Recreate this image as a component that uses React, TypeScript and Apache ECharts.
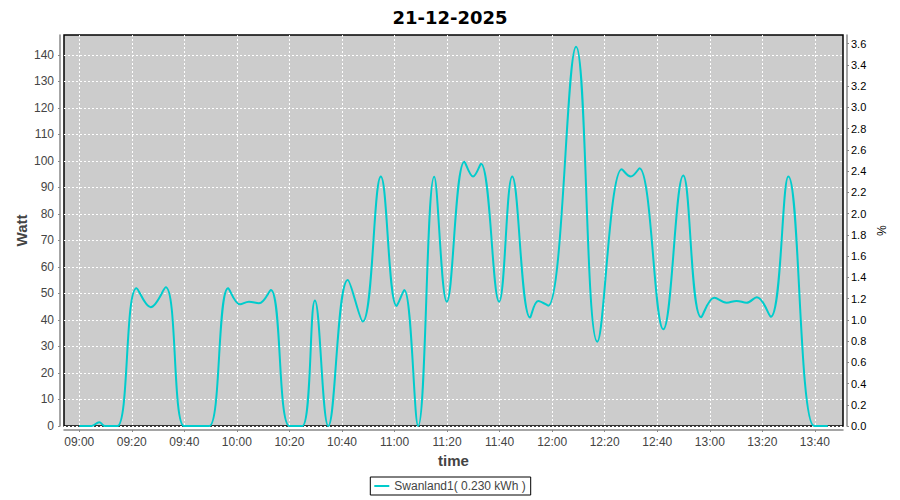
import React, { useEffect, useRef } from "react";
import * as echarts from "echarts";

const chartTitle = "21-12-2025";
const seriesName = "Swanland1( 0.230 kWh )";
const startClock = "09:00";

// minutes after 09:00
const minutes = [
  0, 4.7, 7.6, 9.8, 14.5, 21.8, 27.2, 32.9, 39.9, 44.7, 49.5, 56.7, 61.2, 64.6,
  68.4, 72.9, 80, 84.9, 89.7, 94.8, 102.2, 107.9, 114.8, 120.8, 123.7, 129,
  135.1, 139.9, 146.6, 149.9, 152.9, 159.8, 164.8, 171.6, 174.7, 178.5, 189.1,
  197.2, 206.5, 209.9, 213.2, 222.3, 229.9, 236.7, 241.7, 246.4, 250.2, 254,
  257.9, 263.2, 269.9, 279.7, 284.9,
];
const watts = [
  0, 0, 1.4, 0, 0, 52, 44.8, 52.3, 0, 0, 0, 52, 45.9, 46.9, 46.3, 51.3, 0, 0,
  47.3, 0, 55.1, 39.4, 94.1, 45.3, 51.3, 0, 94, 46.9, 99.7, 94.1, 98.9, 46.9,
  94.1, 40.9, 47.2, 45.4, 143.1, 31.8, 96.9, 94.1, 97.2, 36.5, 94.5, 41, 48.4,
  46.5, 47.2, 46.5, 48.6, 41.2, 94.1, 0, 0,
];

const xTickLabels = [
  "09:00", "09:20", "09:40", "10:00", "10:20", "10:40", "11:00", "11:20",
  "11:40", "12:00", "12:20", "12:40", "13:00", "13:20", "13:40",
];
const leftTicks = [0, 10, 20, 30, 40, 50, 60, 70, 80, 90, 100, 110, 120, 130, 140];
const rightTicks = [
  0.0, 0.2, 0.4, 0.6, 0.8, 1.0, 1.2, 1.4, 1.6, 1.8, 2.0, 2.2, 2.4, 2.6, 2.8,
  3.0, 3.2, 3.4, 3.6,
];

const toMin = (s: string) => {
  const [h, m] = s.split(":").map(Number);
  return h * 60 + m;
};
const base = toMin(startClock);
const xTickValues = xTickLabels.map((s) => toMin(s) - base);
const fmtClock = (v: number) => {
  const t = Math.round(v + base);
  const h = Math.floor(t / 60);
  const m = t % 60;
  return `${String(h).padStart(2, "0")}:${String(m).padStart(2, "0")}`;
};

const FONT = "'Liberation Sans', Arial, sans-serif";

export default function App() {
  const ref = useRef<HTMLDivElement>(null);
  useEffect(() => {
    if (!ref.current) return;
    const chart = echarts.init(ref.current, undefined, { renderer: "svg" });
    chart.setOption({
      animation: false,
      backgroundColor: "#ffffff",
      title: {
        text: chartTitle,
        left: "center",
        top: 3,
        textStyle: {
          fontFamily: "'DejaVu Sans', sans-serif",
          fontSize: 18,
          fontWeight: "bold",
          color: "#000",
        },
      },
      legend: {
        data: [{ name: seriesName, icon: "rect" }],
        left: "center",
        top: 477,
        itemWidth: 15,
        itemHeight: 2,
        itemGap: 5,
        padding: [3, 5, 3, 4],
        borderColor: "#000",
        borderWidth: 1,
        textStyle: { fontFamily: FONT, fontSize: 12, color: "#444" },
      },
      grid: {
        left: 64,
        right: 57,
        top: 35,
        bottom: 74,
        show: true,
        backgroundColor: "#cccccc",
        borderColor: "#000",
        borderWidth: 1.5,
        containLabel: false,
      },
      xAxis: {
        type: "value",
        min: -5.8,
        max: 290.7,
        offset: 4,
        name: "time",
        nameLocation: "middle",
        nameGap: 20,
        nameTextStyle: { fontFamily: FONT, fontSize: 15, fontWeight: "bold", color: "#444" },
        axisLine: { show: true, onZero: false, lineStyle: { color: "#888", width: 1.5 } },
        axisTick: { show: true, length: 2, customValues: xTickValues, lineStyle: { color: "#888" } },
        axisLabel: {
          customValues: xTickValues,
          formatter: (v: number) => fmtClock(v),
          fontFamily: FONT,
          fontSize: 12,
          color: "#444",
          margin: 6,
        },
        splitLine: { show: true, lineStyle: { color: "#fff", type: [2, 2], width: 1 } },
      },
      yAxis: [
        {
          type: "value",
          min: 0,
          max: 147.5,
          interval: 10,
          position: "left",
          offset: 4,
          name: "Watt",
          nameLocation: "middle",
          nameGap: 31,
          nameMoveOverlap: false,
          nameTextStyle: { fontFamily: FONT, fontSize: 15, fontWeight: "bold", color: "#444" },
          axisLine: { show: true, onZero: false, lineStyle: { color: "#888", width: 1.5 } },
          axisTick: { show: true, length: 2, customValues: leftTicks, lineStyle: { color: "#888" } },
          axisLabel: {
            customValues: leftTicks,
            fontFamily: FONT,
            fontSize: 12,
            color: "#444",
            margin: 6,
          },
          splitLine: { show: true, lineStyle: { color: "#fff", type: [2, 2], width: 1 } },
        },
        {
          type: "value",
          min: 0,
          max: 3.68,
          interval: 0.2,
          position: "right",
          offset: 4,
          name: "%",
          nameLocation: "middle",
          nameGap: 28,
          nameMoveOverlap: false,
          nameRotate: -90,
          nameTextStyle: { fontFamily: FONT, fontSize: 12, color: "#000" },
          axisLine: { show: true, onZero: false, lineStyle: { color: "#888", width: 1.5 } },
          axisTick: { show: true, length: 2, customValues: rightTicks, lineStyle: { color: "#888" } },
          axisLabel: {
            customValues: rightTicks,
            formatter: (v: number) => v.toFixed(1),
            fontFamily: FONT,
            fontSize: 11,
            color: "#000",
            margin: 4,
          },
          splitLine: { show: false },
        },
      ],
      series: [
        {
          name: seriesName,
          type: "line",
          yAxisIndex: 0,
          data: minutes.map((m, i) => [m, watts[i]]),
          smooth: 0.4,
          showSymbol: false,
          symbol: "none",
          clip: true,
          lineStyle: { color: "#00cccc", width: 2 },
          itemStyle: { color: "#00cccc" },
        },
      ],
    });
    return () => chart.dispose();
  }, []);
  return (
    <div
      ref={ref}
      style={{ position: "fixed", left: 0, top: 0, width: 900, height: 500 }}
    />
  );
}
